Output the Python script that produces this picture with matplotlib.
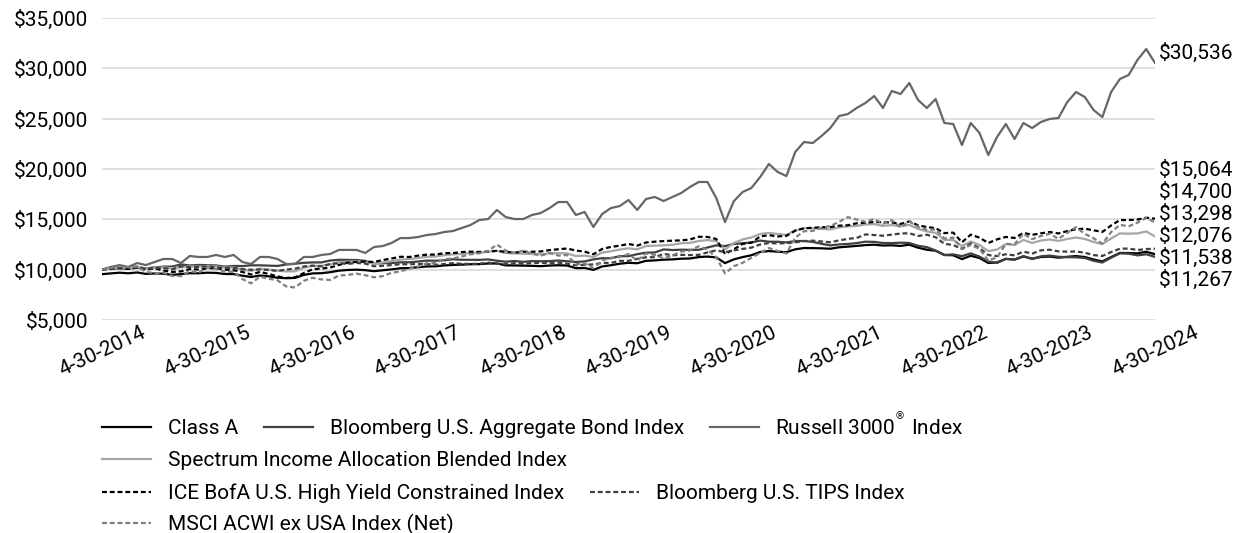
import matplotlib
matplotlib.use("Agg")
import matplotlib.pyplot as plt
import matplotlib.transforms as mtransforms
from matplotlib.ticker import FuncFormatter

plt.rcParams["font.family"] = ["Roboto", "DejaVu Sans"]

# month-end values, 4-30-2014 .. 4-30-2024 (growth of $10,000)
years = [str(y) for y in range(2014, 2025)]

class_a = [9550, 9630, 9700, 9640, 9720, 9580, 9620, 9600, 9480,
           9560, 9650, 9640, 9700, 9680, 9570, 9560, 9400, 9270, 9420, 9340, 9200,
           9150, 9180, 9480, 9630, 9650, 9750, 9900, 9970, 10000, 9950, 9850, 9940,
           10030, 10140, 10160, 10240, 10320, 10330, 10420, 10470, 10500, 10540, 10550, 10610,
           10620, 10430, 10420, 10400, 10380, 10350, 10410, 10440, 10410, 10150, 10170, 9980,
           10320, 10440, 10590, 10680, 10640, 10880, 10920, 10990, 11020, 11090, 11110, 11250,
           11300, 11220, 10650, 11020, 11250, 11430, 11760, 11850, 11780, 11740, 12020, 12150,
           12140, 12120, 12080, 12220, 12290, 12360, 12440, 12480, 12400, 12420, 12360, 12480,
           12180, 11980, 11880, 11460, 11430, 11050, 11380, 11160, 10660, 10720, 11080, 11000,
           11310, 11100, 11260, 11300, 11190, 11280, 11350, 11260, 11010, 10820, 11250, 11660,
           11650, 11620, 11780, 11538]

agg_bond = [10000, 10110, 10120, 10090, 10200, 10130, 10230, 10300, 10310,
            10520, 10420, 10470, 10440, 10420, 10300, 10370, 10360, 10430, 10430, 10400, 10370,
            10510, 10590, 10680, 10720, 10720, 10910, 10980, 10970, 10960, 10870, 10620, 10640,
            10660, 10730, 10730, 10810, 10900, 10890, 10930, 11030, 10980, 10980, 10970, 11020,
            10890, 10790, 10860, 10780, 10850, 10840, 10850, 10910, 10840, 10760, 10820, 11020,
            11140, 11130, 11340, 11340, 11540, 11690, 11710, 12010, 11950, 11980, 11970, 11970,
            12200, 12420, 12340, 12560, 12620, 12700, 12890, 12780, 12770, 12710, 12840, 12850,
            12760, 12570, 12410, 12510, 12550, 12640, 12780, 12760, 12650, 12640, 12680, 12650,
            12370, 12240, 11900, 11450, 11520, 11340, 11620, 11300, 10810, 10670, 11060, 11010,
            11350, 11050, 11330, 11400, 11280, 11240, 11230, 11160, 10880, 10710, 11190, 11620,
            11590, 11420, 11530, 11267]

russell = [10000, 10260, 10460, 10260, 10660, 10460, 10760, 11060, 11060,
           10660, 11360, 11260, 11260, 11460, 11260, 11460, 10760, 10560, 11260, 11260, 11060,
           10560, 10560, 11260, 11260, 11460, 11560, 11960, 11960, 11960, 11660, 12250, 12350,
           12650, 13140, 13140, 13240, 13440, 13540, 13740, 13840, 14140, 14440, 14930, 15030,
           15930, 15230, 15030, 15030, 15430, 15630, 16120, 16720, 16720, 15430, 15730, 14240,
           15530, 16120, 16320, 16920, 15930, 17020, 17220, 16820, 17220, 17610, 18210, 18710,
           18710, 17120, 14735, 16800, 17710, 18110, 19200, 20500, 19700, 19300, 21690, 22680,
           22580, 23280, 24070, 25260, 25460, 26060, 26560, 27250, 26060, 27750, 27450, 28540,
           26850, 26060, 26950, 24570, 24470, 22380, 24570, 23580, 21390, 23180, 24470, 22980,
           24570, 24070, 24670, 24970, 25070, 26650, 27650, 27150, 25860, 25160, 27650, 28940,
           29340, 30830, 31920, 30536]

spectrum = [10000, 10130, 10200, 10140, 10280, 10120, 10200, 10230, 10150,
            10230, 10330, 10300, 10360, 10330, 10200, 10220, 10000, 9880, 10100, 10020, 9900,
            9820, 9840, 10210, 10370, 10380, 10520, 10750, 10800, 10840, 10720, 10620, 10720,
            10850, 11000, 11050, 11160, 11280, 11300, 11440, 11520, 11560, 11640, 11690, 11780,
            11880, 11650, 11610, 11580, 11560, 11520, 11620, 11640, 11620, 11350, 11400, 11250,
            11700, 11830, 12000, 12120, 12020, 12350, 12380, 12420, 12470, 12620, 12660, 12850,
            12940, 12830, 12000, 12650, 13000, 13200, 13550, 13650, 13550, 13450, 13900, 14120,
            14120, 14050, 14000, 14200, 14300, 14350, 14480, 14520, 14350, 14430, 14300, 14450,
            14050, 13800, 13650, 12950, 12950, 12350, 12800, 12450, 11850, 12000, 12550, 12450,
            12950, 12650, 12900, 13000, 12850, 13050, 13200, 13050, 12750, 12550, 13100, 13600,
            13580, 13600, 13800, 13298]

high_yield = [10000, 10100, 10200, 10070, 10220, 10010, 10130, 9910, 9770,
              9830, 10060, 10010, 10130, 10160, 10000, 9940, 9770, 9520, 9780, 9570, 9330,
              9180, 9240, 9660, 10040, 10110, 10210, 10470, 10700, 10770, 10800, 10760, 10960,
              11110, 11280, 11260, 11390, 11490, 11500, 11640, 11650, 11750, 11790, 11760, 11800,
              11870, 11770, 11700, 11780, 11780, 11810, 11940, 12030, 12100, 11900, 11790, 11530,
              12060, 12260, 12380, 12550, 12390, 12700, 12780, 12840, 12880, 12910, 13000, 13270,
              13250, 13050, 11560, 12020, 12560, 12680, 13300, 13430, 13300, 13360, 13870, 14110,
              14160, 14210, 14230, 14370, 14410, 14610, 14660, 14740, 14710, 14690, 14540, 14800,
              14400, 14240, 14120, 13630, 13680, 12720, 13480, 13180, 12650, 13010, 13250, 13150,
              13650, 13460, 13610, 13740, 13600, 13830, 14020, 14070, 13910, 13750, 14390, 14930,
              14930, 14980, 15160, 15064]

tips = [10000, 10210, 10240, 10260, 10300, 10080, 10150, 10170, 10020,
        10330, 10250, 10270, 10340, 10250, 10150, 10160, 10060, 9990, 10020, 9960, 9880,
        10010, 10100, 10320, 10400, 10330, 10560, 10640, 10570, 10670, 10600, 10340, 10380,
        10460, 10540, 10530, 10570, 10570, 10470, 10560, 10650, 10580, 10570, 10590, 10700,
        10590, 10540, 10650, 10590, 10650, 10690, 10640, 10700, 10590, 10440, 10490, 10520,
        10660, 10680, 10870, 10880, 11070, 11230, 11240, 11570, 11430, 11470, 11450, 11470,
        11710, 11920, 11730, 11920, 12060, 12190, 12500, 12640, 12610, 12630, 12710, 12840,
        12880, 12800, 12720, 12910, 13060, 13150, 13500, 13440, 13370, 13480, 13590, 13620,
        13350, 13470, 13220, 12570, 12450, 12050, 12600, 12150, 11450, 11350, 11530, 11420,
        11790, 11600, 11920, 11980, 11820, 11790, 11810, 11680, 11450, 11360, 11750, 12080,
        12100, 11950, 12050, 12076]

msci = [10000, 10170, 10340, 10230, 10280, 9780, 9630, 9710, 9370,
        9370, 9860, 9700, 10210, 10070, 9800, 9780, 9070, 8640, 9300, 9100, 8940,
        8330, 8230, 8900, 9190, 9030, 8980, 9420, 9480, 9600, 9450, 9240, 9360,
        9690, 9830, 10080, 10300, 10630, 10650, 11050, 11110, 11310, 11530, 11620, 11840,
        12500, 11890, 11680, 11870, 11600, 11390, 11660, 11400, 11450, 10530, 10630, 10150,
        10910, 11180, 11250, 11550, 10920, 11610, 11470, 11120, 11410, 11800, 11900, 12320,
        11990, 11240, 9630, 10340, 10680, 11170, 11660, 12150, 11860, 11610, 13180, 13820,
        13850, 14160, 14340, 14750, 15220, 14980, 14750, 15040, 14570, 14910, 14210, 14800,
        14250, 13970, 13990, 13100, 13180, 12050, 12460, 12060, 10900, 11230, 12560, 12530,
        13570, 13030, 13340, 13570, 13060, 13660, 14220, 13560, 13120, 12570, 13740, 14450,
        14310, 14670, 15130, 14700]

series = [
    ("Class A", class_a, "#000000", "-"),
    ("Bloomberg U.S. Aggregate Bond Index", agg_bond, "#404040", "-"),
    ("Russell 3000$^{^{\u00ae}}$ Index", russell, "#666666", "-"),
    ("Spectrum Income Allocation Blended Index", spectrum, "#a6a6a6", "-"),
    ("ICE BofA U.S. High Yield Constrained Index", high_yield, "#000000", "--"),
    ("Bloomberg U.S. TIPS Index", tips, "#404040", "--"),
    ("MSCI ACWI ex USA Index (Net)", msci, "#808080", "--"),
]

fig = plt.figure(figsize=(12.47, 5.33), dpi=100)
ax = fig.add_axes([102 / 1247, 1 - 320 / 533, 1053 / 1247, 302 / 533])

months = list(range(len(class_a)))
handles = {}
draw_order = [2, 6, 5, 4, 3, 1, 0]
for i in draw_order:
    name, vals, col, ls = series[i]
    kw = dict(color=col, lw=1.6, label=name, zorder=3 + i * 0.1)
    if ls == "--":
        kw["dashes"] = (2.2, 1.3)
    (ln,) = ax.plot(months, vals, **kw)
    handles[i] = ln

ax.set_xlim(0, 120)
ax.set_ylim(5000, 35000)
ax.set_yticks(range(5000, 35001, 5000))
ax.yaxis.set_major_formatter(FuncFormatter(lambda v, p: f"${v:,.0f}"))
ax.set_xticks(range(0, 121, 12))
ax.set_xticklabels([f"4-30-{y}" for y in years], rotation=25, ha="center")
shift = mtransforms.ScaledTranslation(6 / 100, 0, fig.dpi_scale_trans)
for lab in ax.get_xticklabels():
    lab.set_transform(lab.get_transform() + shift)
ax.grid(axis="y", color="#d9d9d9", lw=1.2, zorder=0)
ax.set_axisbelow(True)
for s in ax.spines.values():
    s.set_visible(False)
ax.tick_params(length=0, labelsize=15, colors="#000000")
ax.tick_params(axis="y", pad=10)
ax.tick_params(axis="x", pad=2)

# end-value labels stacked to the right of the plot
ax.text(1.004, 0.884, f"${russell[-1]:,}", transform=ax.transAxes,
        va="center", ha="left", fontsize=15)
stack = [high_yield, msci, spectrum, tips, class_a, agg_bond]
for k, vals in enumerate(stack):
    ax.text(1.004, 0.497 - k * 0.0728, f"${vals[-1]:,}", transform=ax.transAxes,
            va="center", ha="left", fontsize=15)

# legend rows
rows = [[0, 1, 2], [3], [4, 5], [6]]
row_y = [438, 470, 503, 535]
for r, y in zip(rows, row_y):
    fig.legend([handles[i] for i in r], [series[i][0] for i in r],
               loc="lower left", bbox_to_anchor=(102 / 1247, 1 - y / 533),
               ncol=len(r), frameon=False, fontsize=15, handlelength=2.35,
               handletextpad=0.8, columnspacing=1.25, borderpad=0, borderaxespad=0)

fig.savefig("out.png", dpi=100)
